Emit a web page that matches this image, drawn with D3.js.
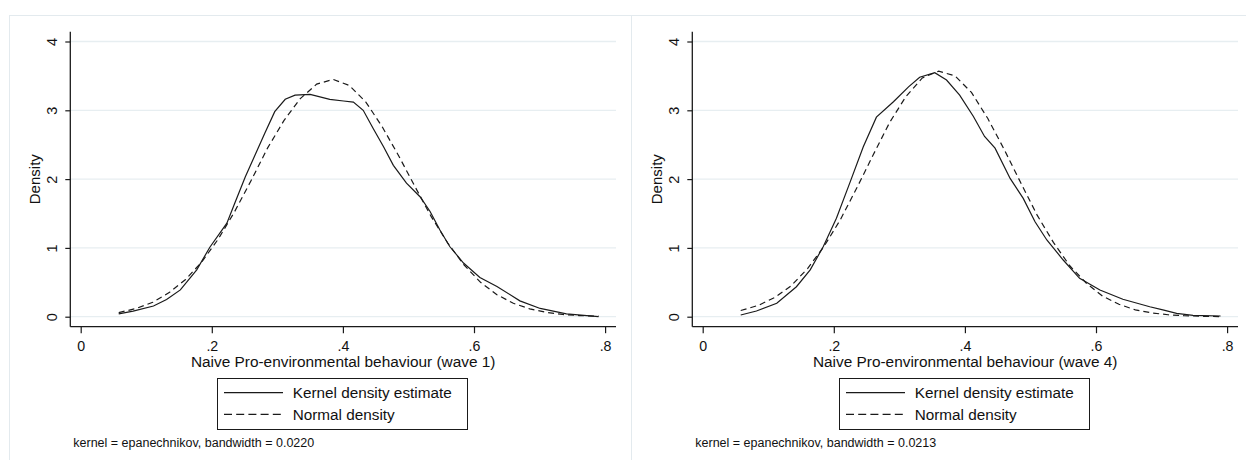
<!DOCTYPE html>
<html>
<head>
<meta charset="utf-8">
<script src="https://cdn.jsdelivr.net/npm/d3@7"></script>
<style>
  html, body { margin: 0; padding: 0; background: #ffffff; }
  svg { display: block; }
  text { font-family: "Liberation Sans", Arial, sans-serif; fill: #111; }
</style>
</head>
<body>
<svg id="chart" width="1246" height="460"></svg>
<script>
// ---------- data ----------
const xTickValues = [0, 0.2, 0.4, 0.6, 0.8];
const xTickLabels = ["0", ".2", ".4", ".6", ".8"];
const yTickValues = [0, 1, 2, 3, 4];
const yTickLabels = ["0", "1", "2", "3", "4"];
const yTitle = "Density";
const xTitles = ["Naive Pro-environmental behaviour (wave 1)", "Naive Pro-environmental behaviour (wave 4)"];
const legendLabels = ["Kernel density estimate", "Normal density"];
const notes = ["kernel = epanechnikov, bandwidth = 0.0220", "kernel = epanechnikov, bandwidth = 0.0213"];

// wave 1 kernel density estimate
const w1KernelX = [0.058, 0.080, 0.111, 0.131, 0.152, 0.177, 0.197, 0.223, 0.235, 0.251, 0.266, 0.281, 0.296, 0.312, 0.327, 0.350, 0.380, 0.401, 0.416, 0.431, 0.446, 0.462, 0.477, 0.497, 0.518, 0.533, 0.548, 0.563, 0.584, 0.609, 0.635, 0.670, 0.701, 0.741, 0.790];
const w1KernelY = [0.04, 0.08, 0.155, 0.25, 0.39, 0.68, 1.01, 1.36, 1.65, 2.03, 2.35, 2.67, 2.98, 3.16, 3.22, 3.23, 3.16, 3.135, 3.12, 3.0, 2.74, 2.47, 2.2, 1.94, 1.74, 1.53, 1.26, 1.02, 0.78, 0.57, 0.44, 0.23, 0.12, 0.04, 0.0];
// wave 1 normal density
const w1NormalX = [0.058, 0.085, 0.11, 0.135, 0.16, 0.185, 0.21, 0.235, 0.26, 0.285, 0.31, 0.335, 0.36, 0.385, 0.41, 0.435, 0.46, 0.485, 0.51, 0.535, 0.56, 0.585, 0.61, 0.635, 0.66, 0.685, 0.71, 0.735, 0.76, 0.79];
const w1NormalY = [0.06, 0.12, 0.21, 0.35, 0.54, 0.80, 1.13, 1.53, 1.98, 2.45, 2.85, 3.17, 3.38, 3.45, 3.36, 3.12, 2.76, 2.34, 1.89, 1.45, 1.07, 0.75, 0.50, 0.32, 0.195, 0.114, 0.063, 0.033, 0.017, 0.007];

// wave 4 kernel density estimate
const w4KernelX = [0.058, 0.082, 0.113, 0.143, 0.164, 0.184, 0.204, 0.225, 0.245, 0.265, 0.291, 0.314, 0.331, 0.354, 0.372, 0.392, 0.413, 0.430, 0.446, 0.469, 0.489, 0.507, 0.525, 0.550, 0.575, 0.606, 0.641, 0.682, 0.702, 0.723, 0.748, 0.790];
const w4KernelY = [0.025, 0.083, 0.195, 0.436, 0.68, 1.02, 1.43, 1.96, 2.47, 2.90, 3.125, 3.34, 3.48, 3.547, 3.44, 3.22, 2.91, 2.62, 2.45, 2.01, 1.72, 1.38, 1.115, 0.824, 0.558, 0.388, 0.253, 0.145, 0.10, 0.049, 0.02, 0.01];
// wave 4 normal density
const w4NormalX = [0.058, 0.085, 0.11, 0.135, 0.16, 0.185, 0.21, 0.235, 0.26, 0.285, 0.31, 0.335, 0.36, 0.385, 0.41, 0.435, 0.46, 0.485, 0.51, 0.535, 0.56, 0.585, 0.61, 0.635, 0.66, 0.685, 0.71, 0.735, 0.76, 0.79];
const w4NormalY = [0.09, 0.165, 0.28, 0.45, 0.70, 1.02, 1.41, 1.87, 2.35, 2.82, 3.20, 3.47, 3.57, 3.50, 3.26, 2.88, 2.43, 1.95, 1.48, 1.08, 0.74, 0.49, 0.30, 0.18, 0.10, 0.055, 0.028, 0.014, 0.006, 0.002];

const panels = [
  { kx: w1KernelX, ky: w1KernelY, nx: w1NormalX, ny: w1NormalY, title: xTitles[0], note: notes[0] },
  { kx: w4KernelX, ky: w4KernelY, nx: w4NormalX, ny: w4NormalY, title: xTitles[1], note: notes[1] }
];

// ---------- drawing ----------
const svg = d3.select("#chart");
const panelWidth = 622;
const ink = "#1a1a1a";

panels.forEach((p, i) => {
  const ox = i * panelWidth;
  const g = svg.append("g").attr("transform", `translate(${ox},0)`);

  // outer panel frame
  g.append("rect")
    .attr("x", 9.5).attr("y", 15.5)
    .attr("width", panelWidth).attr("height", 470)
    .attr("fill", "none").attr("stroke", "#e3eaee").attr("stroke-width", 1);

  const plotLeft = 70.3, plotRight = 616, plotTop = 31.7, plotBottom = 326.7;
  const x = d3.scaleLinear().domain([0, 0.8]).range([80.7, 605.1]);
  const y = d3.scaleLinear().domain([0, 4]).range([316.7, 41.5]);

  // gridlines
  g.append("g").selectAll("line").data(yTickValues).join("line")
    .attr("x1", plotLeft).attr("x2", plotRight)
    .attr("y1", d => y(d)).attr("y2", d => y(d))
    .attr("stroke", "#e7eef1").attr("stroke-width", 1.3);

  // y axis
  const yAxis = d3.axisLeft(y).tickValues(yTickValues)
    .tickFormat((d, j) => yTickLabels[j]).tickSize(5).tickSizeOuter(0);
  const ya = g.append("g").attr("transform", `translate(${plotLeft},0)`).call(yAxis);
  ya.select(".domain").remove();
  ya.selectAll(".tick line").attr("stroke", ink).attr("stroke-width", 1.2);
  ya.selectAll(".tick text")
    .attr("x", null).attr("dy", null)
    .attr("text-anchor", "middle")
    .attr("transform", "translate(-13.8,0) rotate(-90)")
    .style("font-size", "14.5px").style("fill", "#111");
  g.append("line")
    .attr("x1", plotLeft).attr("x2", plotLeft)
    .attr("y1", plotTop).attr("y2", plotBottom)
    .attr("stroke", ink).attr("stroke-width", 1.3);

  // x axis
  const xAxis = d3.axisBottom(x).tickValues(xTickValues)
    .tickFormat((d, j) => xTickLabels[j]).tickSize(6.5).tickSizeOuter(0);
  const xa = g.append("g").attr("transform", `translate(0,${plotBottom})`).call(xAxis);
  xa.select(".domain").remove();
  xa.selectAll(".tick line").attr("stroke", ink).attr("stroke-width", 1.2);
  xa.selectAll(".tick text")
    .attr("y", 24.5).attr("dy", null)
    .style("font-size", "14.2px").style("fill", "#111");
  g.append("line")
    .attr("x1", plotLeft).attr("x2", plotRight)
    .attr("y1", plotBottom).attr("y2", plotBottom)
    .attr("stroke", ink).attr("stroke-width", 1.3);

  // axis titles
  g.append("text")
    .attr("transform", `translate(40,${(plotTop + plotBottom) / 2}) rotate(-90)`)
    .attr("text-anchor", "middle")
    .style("font-size", "15px")
    .text(yTitle);
  g.append("text")
    .attr("x", (plotLeft + plotRight) / 2).attr("y", 366.5)
    .attr("text-anchor", "middle")
    .style("font-size", "15.4px")
    .text(p.title);

  // curves
  const line = d3.line().x(d => x(d[0])).y(d => y(d[1]));
  const kernelPts = p.kx.map((v, j) => [v, p.ky[j]]);
  const normalPts = p.nx.map((v, j) => [v, p.ny[j]]);
  g.append("path").datum(normalPts)
    .attr("d", line).attr("fill", "none")
    .attr("stroke", ink).attr("stroke-width", 1.2)
    .attr("stroke-dasharray", "6,4");
  g.append("path").datum(kernelPts)
    .attr("d", line).attr("fill", "none")
    .attr("stroke", ink).attr("stroke-width", 1.2);

  // legend
  const lg = g.append("g");
  lg.append("rect")
    .attr("x", 217.5).attr("y", 378.5).attr("width", 250).attr("height", 51)
    .attr("fill", "#fff").attr("stroke", ink).attr("stroke-width", 1);
  const rowsY = [392.7, 414.3];
  legendLabels.forEach((lab, j) => {
    lg.append("line")
      .attr("x1", 224).attr("x2", 283)
      .attr("y1", rowsY[j]).attr("y2", rowsY[j])
      .attr("stroke", ink).attr("stroke-width", 1.2)
      .attr("stroke-dasharray", j === 1 ? "8,4.2" : null);
    lg.append("text")
      .attr("x", 292.7).attr("y", rowsY[j] + 5.4)
      .style("font-size", "15.3px")
      .text(lab);
  });

  // note
  g.append("text")
    .attr("x", 73.3).attr("y", 447)
    .style("font-size", "12.5px")
    .text(p.note);
});
</script>
</body>
</html>
